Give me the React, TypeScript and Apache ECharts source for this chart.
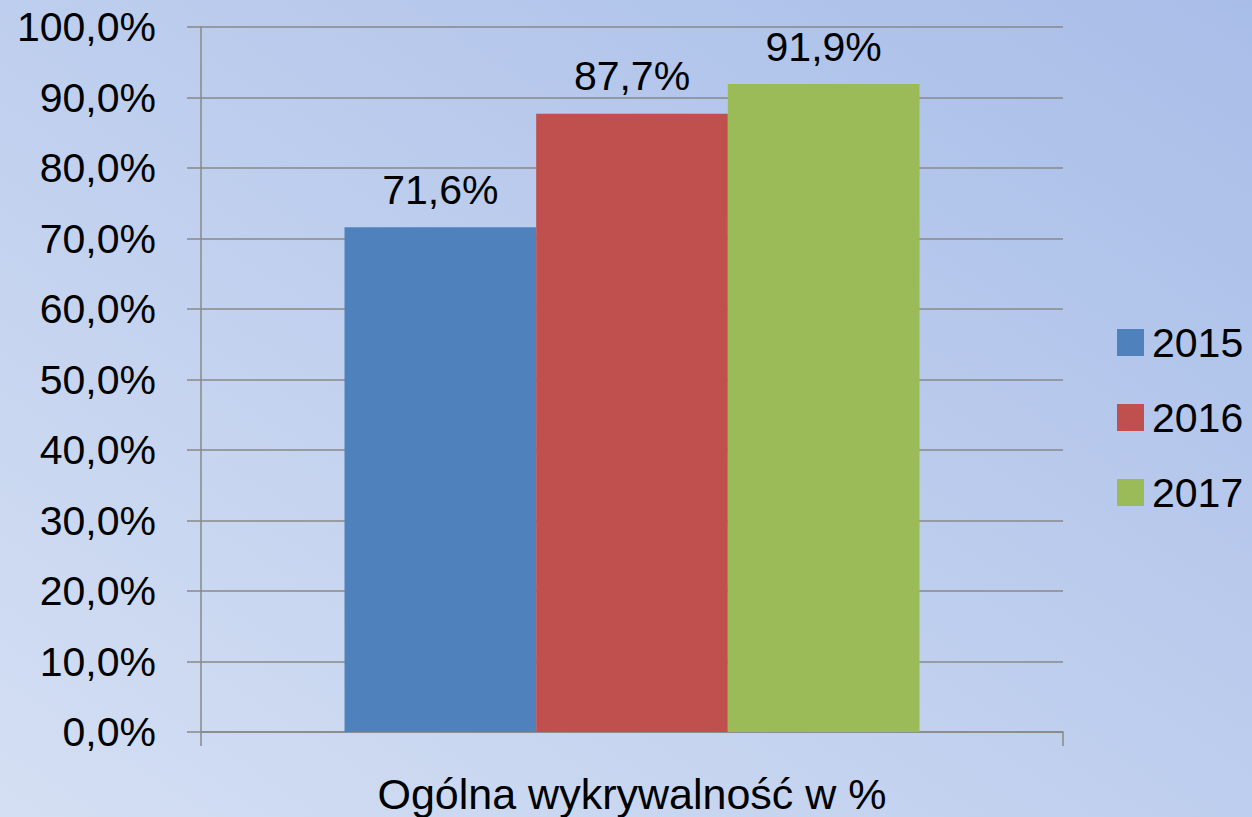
import React, { useEffect, useRef } from "react";
import * as echarts from "echarts";

const categories = ["Ogólna wykrywalność w %"];
const seriesNames = ["2015", "2016", "2017"];
const values2015 = [71.6];
const values2016 = [87.7];
const values2017 = [91.9];
const colors = ["#4F81BD", "#C0504D", "#9BBB59"];

const fmt = (v: number) => v.toFixed(1).replace(".", ",") + "%";

export default function App() {
  const ref = useRef<HTMLDivElement>(null);
  useEffect(() => {
    document.body.style.margin = "0";
    const chart = echarts.init(ref.current!, null, { renderer: "svg" });
    const font = "'Liberation Sans', Arial, sans-serif";
    const gridColor = "#888888";
    const data = [values2015, values2016, values2017];
    chart.setOption({
      animation: false,
      backgroundColor: new echarts.graphic.LinearGradient(0, 1, 1, 0, [
        { offset: 0, color: "#D4DFF3" },
        { offset: 1, color: "#A8BDE8" },
      ]),
      textStyle: { fontFamily: font },
      grid: { left: 201, right: 189, top: 27, bottom: 85, containLabel: false },
      legend: {
        orient: "vertical",
        left: 1112,
        top: 317,
        icon: "rect",
        itemWidth: 27,
        itemHeight: 27,
        itemGap: 34,
        textStyle: { fontSize: 41, color: "#000", fontFamily: font, lineHeight: 40, padding: [0, 0, 0, 3] },
        data: seriesNames,
      },
      xAxis: {
        type: "category",
        data: categories,
        axisLine: { show: true, lineStyle: { color: gridColor, width: 1.5 } },
        axisTick: { show: true, length: 14, lineStyle: { color: gridColor, width: 1.5 } },
        axisLabel: { fontSize: 43, color: "#000", margin: 40, fontFamily: font, lineHeight: 44 },
      },
      yAxis: {
        type: "value",
        min: 0,
        max: 100,
        interval: 10,
        axisLine: { show: true, lineStyle: { color: gridColor, width: 1.5 } },
        axisTick: { show: true, length: 14, lineStyle: { color: gridColor, width: 1.5 } },
        splitLine: { show: true, lineStyle: { color: gridColor, width: 1.5 } },
        axisLabel: { fontSize: 41, color: "#000", margin: 45, fontFamily: font, formatter: (v: number) => fmt(v) },
      },
      series: seriesNames.map((name, i) => ({
        name,
        type: "bar",
        data: data[i],
        barGap: "0%",
        barCategoryGap: "33.3%",
        itemStyle: { color: colors[i] },
        label: {
          show: true,
          position: "top",
          distance: 17,
          fontSize: 41,
          color: "#000",
          fontFamily: font,
          formatter: (p: any) => fmt(p.value),
        },
      })),
    });
    return () => chart.dispose();
  }, []);
  return <div ref={ref} style={{ width: 1252, height: 817 }} />;
}
